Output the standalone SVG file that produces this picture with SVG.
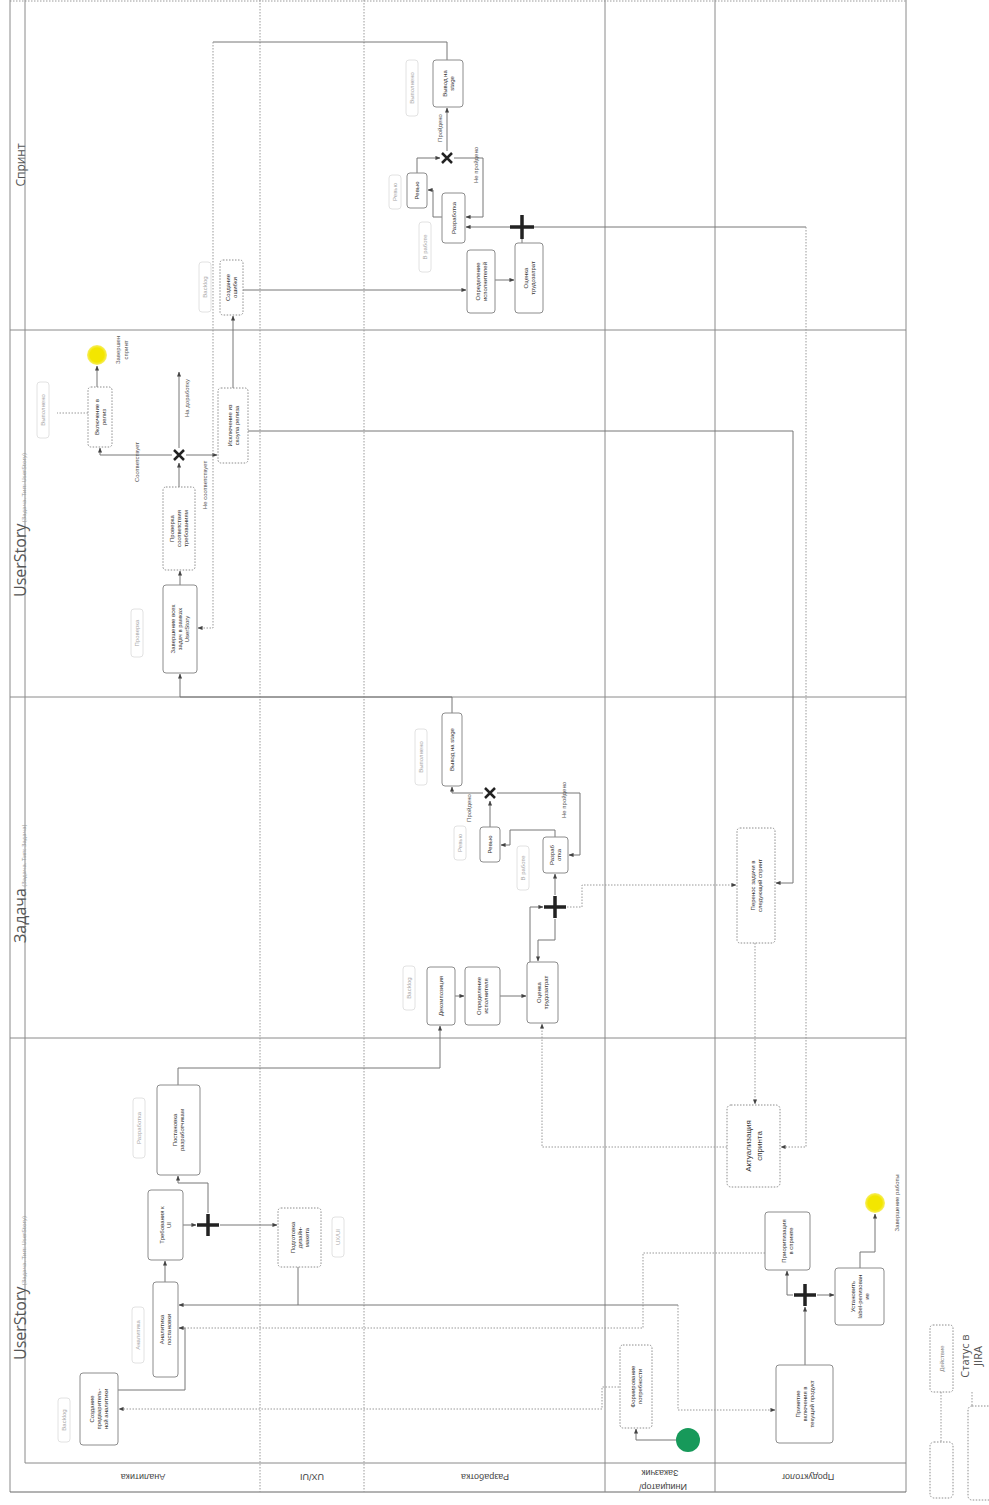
<svg xmlns="http://www.w3.org/2000/svg" width="989" height="1505" viewBox="0 0 989 1505">
<style>
.frame{stroke:#8a8a8a;stroke-width:1;fill:none}
.fdot{stroke:#9a9a9a;stroke-width:1;fill:none;stroke-dasharray:1.5 1.5}
.box{fill:#fff;stroke:#8c8c8c;stroke-width:1}
.boxd{fill:#fff;stroke:#8c8c8c;stroke-width:1;stroke-dasharray:1.5 1.5}
.t{font-family:"Liberation Sans",Arial,sans-serif;font-size:6px;fill:#333}
.tb{font-family:"Liberation Sans",Arial,sans-serif;font-size:8px;fill:#333}
.st{font-family:"Liberation Sans",Arial,sans-serif;font-size:6px;fill:#a8a8a8}
.stbox{fill:none;stroke:#e2e2e2;stroke-width:1}
.el{font-family:"Liberation Sans",Arial,sans-serif;font-size:6px;fill:#555}
.lane{font-family:"Liberation Sans",Arial,sans-serif;font-size:9px;fill:#444}
.hd{font-family:"Open Sans","Liberation Sans",sans-serif;fill:#555}
.c{fill:none;stroke:#777;stroke-width:1}
.cd{fill:none;stroke:#999;stroke-width:1;stroke-dasharray:1.5 1.5}
.pg{stroke:#222;stroke-width:3.5;fill:none}
.xg{stroke:#222;stroke-width:2.5;fill:none}
</style>
<defs>
<marker id="a" viewBox="0 0 6 6" refX="5.5" refY="3" markerWidth="5" markerHeight="5" orient="auto"><path d="M0,0.5 L6,3 L0,5.5z" fill="#444"/></marker>
<radialGradient id="yel"><stop offset="0.7" stop-color="#f3e600"/><stop offset="1" stop-color="#f7ef6a"/></radialGradient>
</defs>
<rect width="989" height="1505" fill="#fff"/>

<g id="pool">
<line class="fdot" x1="10" y1="1" x2="906" y2="1"/>
<line class="frame" x1="10" y1="0" x2="10" y2="1492"/>
<line class="frame" x1="25" y1="0" x2="25" y2="1463"/>
<line class="frame" x1="906" y1="0" x2="906" y2="1492"/>
<line class="frame" x1="10" y1="1492" x2="906" y2="1492" style="stroke:#666"/>
<line class="frame" x1="25" y1="1463" x2="906" y2="1463"/>
<line class="frame" x1="10" y1="330" x2="906" y2="330"/>
<line class="frame" x1="10" y1="697" x2="906" y2="697"/>
<line class="frame" x1="10" y1="1038" x2="906" y2="1038"/>
<line class="fdot" x1="260" y1="0" x2="260" y2="1492"/>
<line class="fdot" x1="364" y1="0" x2="364" y2="1492"/>
<line class="frame" x1="605" y1="0" x2="605" y2="1492"/>
<line class="frame" x1="715" y1="0" x2="715" y2="1492"/>
</g>

<g id="headers">
<text class="hd" font-size="12" transform="translate(25,165) rotate(-90)" text-anchor="middle">Спринт</text>
<text class="hd" transform="translate(26,597) rotate(-90)"><tspan font-size="16">UserStory</tspan><tspan font-size="6" fill="#999"> (Задача. Тип: UserStory)</tspan></text>
<text class="hd" transform="translate(26,943) rotate(-90)"><tspan font-size="16">Задача</tspan><tspan font-size="6" fill="#999"> (Задача. Тип: Задача)</tspan></text>
<text class="hd" transform="translate(26,1360) rotate(-90)"><tspan font-size="16">UserStory</tspan><tspan font-size="6" fill="#999"> (Задача. Тип: UserStory)</tspan></text>
</g>

<g id="lanes">
<text class="lane" transform="translate(143,1474) rotate(180)" text-anchor="middle">Аналитика</text>
<text class="lane" transform="translate(312,1474) rotate(180)" text-anchor="middle">UX/UI</text>
<text class="lane" transform="translate(485,1474) rotate(180)" text-anchor="middle">Разработка</text>
<text class="lane" transform="translate(663,1484) rotate(180)" text-anchor="middle">Инициатор/</text>
<text class="lane" transform="translate(660,1470) rotate(180)" text-anchor="middle">Заказчик</text>
<text class="lane" transform="translate(808,1474) rotate(180)" text-anchor="middle">Продуктолог</text>
</g>

<g id="connectors">
<polyline class="c" points="676,1440 636,1440 636,1429" marker-end="url(#a)"/>
<polyline class="cd" points="619,1387 602,1387 602,1409 119,1409" marker-end="url(#a)"/>
<polyline class="c" points="118,1390 185,1390 185,1328 179,1328" marker-end="url(#a)"/>
<polyline class="cd" points="765,1253 643,1253 643,1328 185,1328"/>
<polyline class="c" points="298,1267 298,1305 179,1305" marker-end="url(#a)"/>
<polyline class="c" points="298,1305 678,1305"/>
<polyline class="cd" points="678,1305 678,1410 775,1410" marker-end="url(#a)"/>
<polyline class="c" points="165,1282 165,1261" marker-end="url(#a)"/>
<polyline class="c" points="183,1225 196,1225" marker-end="url(#a)"/>
<polyline class="c" points="220,1225 277,1225" marker-end="url(#a)"/>
<polyline class="c" points="208,1213 208,1183 178,1183 178,1176" marker-end="url(#a)"/>
<polyline class="c" points="178,1085 178,1068 440,1068 440,1026" marker-end="url(#a)"/>
<polyline class="c" points="805,1365 805,1307" marker-end="url(#a)"/>
<polyline class="c" points="817,1295 834,1295" marker-end="url(#a)"/>
<polyline class="c" points="793,1295 787,1295 787,1271" marker-end="url(#a)"/>
<polyline class="c" points="860,1268 860,1252 875,1252 875,1214" marker-end="url(#a)"/>
<polyline class="cd" points="727,1147 542,1147 542,1024" marker-end="url(#a)"/>
<polyline class="cd" points="755,943 755,1104" marker-end="url(#a)"/>
<polyline class="cd" points="567,907 582,907 582,885 736,885" marker-end="url(#a)"/>
<polyline class="c" points="248,431 793,431 793,883 776,883" marker-end="url(#a)"/>
<polyline class="c" points="534,227 806,227"/>
<polyline class="cd" points="806,227 806,1147 781,1147" marker-end="url(#a)"/>
<polyline class="c" points="455,996 464,996" marker-end="url(#a)"/>
<polyline class="c" points="500,996 526,996" marker-end="url(#a)"/>
<polyline class="c" points="530,962 530,907 543,907" marker-end="url(#a)"/>
<polyline class="c" points="555,919 555,940 538,940 538,961" marker-end="url(#a)"/>
<polyline class="c" points="555,895 555,874" marker-end="url(#a)"/>
<polyline class="c" points="555,837 555,830 510,830 510,845 501,845" marker-end="url(#a)"/>
<polyline class="c" points="490,827 490,801" marker-end="url(#a)"/>
<polyline class="c" points="497,793 580,793 580,855 569,855" marker-end="url(#a)"/>
<polyline class="c" points="483,793 452,793 452,787" marker-end="url(#a)"/>
<polyline class="c" points="452,713 452,697 180,697 180,674" marker-end="url(#a)"/>
<polyline class="c" points="180,585 180,571" marker-end="url(#a)"/>
<polyline class="c" points="179,487 179,463" marker-end="url(#a)"/>
<polyline class="c" points="172,455 100,455 100,448" marker-end="url(#a)"/>
<polyline class="c" points="186,455 217,455" marker-end="url(#a)"/>
<polyline class="c" points="179,448 179,372" marker-end="url(#a)"/>
<polyline class="c" points="97,387 97,366" marker-end="url(#a)"/>
<polyline class="cd" points="88,413 57,413"/>
<polyline class="c" points="233,388 233,316" marker-end="url(#a)"/>
<polyline class="c" points="447,60 447,42 213,42"/>
<polyline class="cd" points="213,42 213,628 198,628" marker-end="url(#a)"/>
<polyline class="c" points="243,290 466,290" marker-end="url(#a)"/>
<polyline class="c" points="495,280 514,280" marker-end="url(#a)"/>
<polyline class="c" points="522,243 522,239"/>
<polyline class="c" points="510,227 466,227" marker-end="url(#a)"/>
<polyline class="c" points="442,217 433,217 433,190 428,190" marker-end="url(#a)"/>
<polyline class="c" points="417,173 417,158 440,158" marker-end="url(#a)"/>
<polyline class="c" points="447,151 447,108" marker-end="url(#a)"/>
<polyline class="c" points="454,158 483,158 483,217 466,217" marker-end="url(#a)"/>
</g>

<g id="edge-labels">
<text class="el" transform="translate(471,808) rotate(-90)" text-anchor="middle">Пройдено</text>
<text class="el" transform="translate(566,800) rotate(-90)" text-anchor="middle">Не пройдено</text>
<text class="el" transform="translate(139,462) rotate(-90)" text-anchor="middle">Соответствует</text>
<text class="el" transform="translate(189,398) rotate(-90)" text-anchor="middle">На доработку</text>
<text class="el" transform="translate(207,485) rotate(-90)" text-anchor="middle">Не соответствует</text>
<text class="el" transform="translate(442,128) rotate(-90)" text-anchor="middle">Пройдено</text>
<text class="el" transform="translate(478,165) rotate(-90)" text-anchor="middle">Не пройдено</text>
<text class="el" transform="translate(120,350) rotate(-90)" text-anchor="middle"><tspan x="0" dy="0">Завершен</tspan><tspan x="0" dy="8">спринт</tspan></text>
<text class="el" transform="translate(899,1203) rotate(-90)" text-anchor="middle">Завершение работы</text>
</g>

<g id="status-labels">
<g id="s1"><rect class="stbox" x="58" y="1398" width="12" height="44" rx="3"/><text class="st" transform="translate(66,1420) rotate(-90)" text-anchor="middle">Backlog</text></g>
<g id="s2"><rect class="stbox" x="132" y="1307" width="12" height="56" rx="3"/><text class="st" transform="translate(140,1335) rotate(-90)" text-anchor="middle">Аналитика</text></g>
<g id="s3"><rect class="stbox" x="133" y="1098" width="12" height="60" rx="3"/><text class="st" transform="translate(141,1128) rotate(-90)" text-anchor="middle">Разработка</text></g>
<g id="s4"><rect class="stbox" x="332" y="1217" width="12" height="40" rx="3"/><text class="st" transform="translate(340,1237) rotate(-90)" text-anchor="middle">UX/UI</text></g>
<g id="s5"><rect class="stbox" x="403" y="966" width="12" height="44" rx="3"/><text class="st" transform="translate(411,988) rotate(-90)" text-anchor="middle">Backlog</text></g>
<g id="s6"><rect class="stbox" x="517" y="846" width="12" height="44" rx="3"/><text class="st" transform="translate(525,868) rotate(-90)" text-anchor="middle">В работе</text></g>
<g id="s7"><rect class="stbox" x="454" y="826" width="12" height="34" rx="3"/><text class="st" transform="translate(462,843) rotate(-90)" text-anchor="middle">Ревью</text></g>
<g id="s8"><rect class="stbox" x="415" y="729" width="12" height="56" rx="3"/><text class="st" transform="translate(423,757) rotate(-90)" text-anchor="middle">Выполнено</text></g>
<g id="s9"><rect class="stbox" x="131" y="609" width="12" height="48" rx="3"/><text class="st" transform="translate(139,633) rotate(-90)" text-anchor="middle">Проверка</text></g>
<g id="s10"><rect class="stbox" x="37" y="382" width="12" height="56" rx="3"/><text class="st" transform="translate(45,410) rotate(-90)" text-anchor="middle">Выполнено</text></g>
<g id="s11"><rect class="stbox" x="199" y="262" width="12" height="50" rx="3"/><text class="st" transform="translate(207,287) rotate(-90)" text-anchor="middle">Backlog</text></g>
<g id="s12"><rect class="stbox" x="419" y="222" width="12" height="50" rx="3"/><text class="st" transform="translate(427,247) rotate(-90)" text-anchor="middle">В работе</text></g>
<g id="s13"><rect class="stbox" x="389" y="175" width="12" height="34" rx="3"/><text class="st" transform="translate(397,192) rotate(-90)" text-anchor="middle">Ревью</text></g>
<g id="s14"><rect class="stbox" x="406" y="60" width="12" height="56" rx="3"/><text class="st" transform="translate(414,88) rotate(-90)" text-anchor="middle">Выполнено</text></g>
</g>

<g id="n1"><rect class="box" x="80" y="1373" width="38" height="72" rx="3"/><text class="t" transform="translate(99,1409) rotate(-90)" text-anchor="middle"><tspan x="0" dy="-4.9">Создание</tspan><tspan x="0" dy="7">предваритель-</tspan><tspan x="0" dy="7">ной аналитики</tspan></text></g>
<g id="n2"><rect class="box" x="153" y="1282" width="25" height="95" rx="3"/><text class="t" transform="translate(165.5,1329.5) rotate(-90)" text-anchor="middle"><tspan x="0" dy="-1.4">Аналитика</tspan><tspan x="0" dy="7">постановки</tspan></text></g>
<g id="n3"><rect class="box" x="148" y="1190" width="35" height="70" rx="3"/><text class="t" transform="translate(165.5,1225) rotate(-90)" text-anchor="middle"><tspan x="0" dy="-1.4">Требования к</tspan><tspan x="0" dy="7">UI</tspan></text></g>
<g id="n4"><rect class="box" x="157" y="1085" width="43" height="90" rx="3"/><text class="t" transform="translate(178.5,1130) rotate(-90)" text-anchor="middle"><tspan x="0" dy="-1.4">Постановка</tspan><tspan x="0" dy="7">разработчикам</tspan></text></g>
<g id="n5"><rect class="boxd" x="278" y="1208" width="43" height="59" rx="3"/><text class="t" transform="translate(299.5,1237.5) rotate(-90)" text-anchor="middle"><tspan x="0" dy="-4.9">Подготовка</tspan><tspan x="0" dy="7">дизайн-</tspan><tspan x="0" dy="7">макета</tspan></text></g>
<g id="n6"><rect class="boxd" x="620" y="1345" width="32" height="83" rx="3"/><text class="t" transform="translate(636,1386.5) rotate(-90)" text-anchor="middle"><tspan x="0" dy="-1.4">Формирование</tspan><tspan x="0" dy="7">потребности</tspan></text></g>
<g id="n7"><rect class="box" x="776" y="1365" width="57" height="78" rx="3"/><text class="t" transform="translate(804.5,1404) rotate(-90)" text-anchor="middle"><tspan x="0" dy="-4.9">Принятие</tspan><tspan x="0" dy="7">включения в</tspan><tspan x="0" dy="7">текущий продукт</tspan></text></g>
<g id="n8"><rect class="box" x="835" y="1268" width="49" height="57" rx="3"/><text class="t" transform="translate(859.5,1296.5) rotate(-90)" text-anchor="middle"><tspan x="0" dy="-4.9">Установить</tspan><tspan x="0" dy="7">label-релизован</tspan><tspan x="0" dy="7">ие</tspan></text></g>
<g id="n9"><rect class="box" x="765" y="1212" width="45" height="58" rx="3"/><text class="t" transform="translate(787.5,1241) rotate(-90)" text-anchor="middle"><tspan x="0" dy="-1.4">Приоритизация</tspan><tspan x="0" dy="7">в спринте</tspan></text></g>
<g id="n10"><rect class="boxd" x="727" y="1105" width="53" height="82" rx="4"/><text class="tb" transform="translate(753.5,1146) rotate(-90)" text-anchor="middle"><tspan x="0" dy="-2.7">Актуализация</tspan><tspan x="0" dy="11">спринта</tspan></text></g>
<g id="n11"><rect class="box" x="427" y="967" width="28" height="58" rx="3"/><text class="t" transform="translate(441,996) rotate(-90)" text-anchor="middle"><tspan x="0" dy="2.1">Декомпозиция</tspan></text></g>
<g id="n12"><rect class="box" x="465" y="967" width="35" height="58" rx="3"/><text class="t" transform="translate(482.5,996) rotate(-90)" text-anchor="middle"><tspan x="0" dy="-1.4">Определение</tspan><tspan x="0" dy="7">исполнителя</tspan></text></g>
<g id="n13"><rect class="box" x="527" y="962" width="31" height="61" rx="3"/><text class="t" transform="translate(542.5,992.5) rotate(-90)" text-anchor="middle"><tspan x="0" dy="-1.4">Оценка</tspan><tspan x="0" dy="7">трудозатрат</tspan></text></g>
<g id="n14"><rect class="box" x="543" y="837" width="25" height="36" rx="3"/><text class="t" transform="translate(555.5,855) rotate(-90)" text-anchor="middle"><tspan x="0" dy="-1.4">Разраб</tspan><tspan x="0" dy="7">отка</tspan></text></g>
<g id="n15"><rect class="box" x="480" y="827" width="20" height="35" rx="3"/><text class="t" transform="translate(490,844.5) rotate(-90)" text-anchor="middle"><tspan x="0" dy="2.1">Ревью</tspan></text></g>
<g id="n16"><rect class="box" x="442" y="713" width="20" height="73" rx="3"/><text class="t" transform="translate(452,749.5) rotate(-90)" text-anchor="middle"><tspan x="0" dy="2.1">Вывод на stage</tspan></text></g>
<g id="n17"><rect class="boxd" x="737" y="828" width="38" height="115" rx="3"/><text class="t" transform="translate(756,885.5) rotate(-90)" text-anchor="middle"><tspan x="0" dy="-1.4">Перенос задачи в</tspan><tspan x="0" dy="7">следующий спринт</tspan></text></g>
<g id="n18"><rect class="box" x="163" y="585" width="34" height="88" rx="3"/><text class="t" transform="translate(180,629) rotate(-90)" text-anchor="middle"><tspan x="0" dy="-4.9">Завершение всех</tspan><tspan x="0" dy="7">задач в рамках</tspan><tspan x="0" dy="7">UserStory</tspan></text></g>
<g id="n19"><rect class="boxd" x="163" y="487" width="32" height="83" rx="3"/><text class="t" transform="translate(179,528.5) rotate(-90)" text-anchor="middle"><tspan x="0" dy="-4.9">Проверка</tspan><tspan x="0" dy="7">соответствия</tspan><tspan x="0" dy="7">требованиям</tspan></text></g>
<g id="n20"><rect class="boxd" x="88" y="387" width="24" height="60" rx="3"/><text class="t" transform="translate(100,417) rotate(-90)" text-anchor="middle"><tspan x="0" dy="-1.4">Включение в</tspan><tspan x="0" dy="7">релиз</tspan></text></g>
<g id="n21"><rect class="boxd" x="218" y="388" width="30" height="75" rx="3"/><text class="t" transform="translate(233,425.5) rotate(-90)" text-anchor="middle"><tspan x="0" dy="-1.4">Исключение из</tspan><tspan x="0" dy="7">скоупа релиза</tspan></text></g>
<g id="n22"><rect class="boxd" x="220" y="260" width="23" height="55" rx="3"/><text class="t" transform="translate(231.5,287.5) rotate(-90)" text-anchor="middle"><tspan x="0" dy="-1.4">Создание</tspan><tspan x="0" dy="7">ошибки</tspan></text></g>
<g id="n23"><rect class="box" x="467" y="250" width="28" height="63" rx="3"/><text class="t" transform="translate(481,281.5) rotate(-90)" text-anchor="middle"><tspan x="0" dy="-1.4">Определение</tspan><tspan x="0" dy="7">исполнителей</tspan></text></g>
<g id="n24"><rect class="box" x="515" y="243" width="28" height="70" rx="3"/><text class="t" transform="translate(529,278) rotate(-90)" text-anchor="middle"><tspan x="0" dy="-1.4">Оценка</tspan><tspan x="0" dy="7">трудозатрат</tspan></text></g>
<g id="n25"><rect class="box" x="442" y="193" width="23" height="50" rx="3"/><text class="t" transform="translate(453.5,218) rotate(-90)" text-anchor="middle"><tspan x="0" dy="2.1">Разработка</tspan></text></g>
<g id="n26"><rect class="box" x="407" y="173" width="20" height="35" rx="3"/><text class="t" transform="translate(417,190.5) rotate(-90)" text-anchor="middle"><tspan x="0" dy="2.1">Ревью</tspan></text></g>
<g id="n27"><rect class="box" x="433" y="60" width="30" height="47" rx="3"/><text class="t" transform="translate(448,83.5) rotate(-90)" text-anchor="middle"><tspan x="0" dy="-1.4">Вывод на</tspan><tspan x="0" dy="7">stage</tspan></text></g>

<g id="g1"><path class="pg" d="M197,1225 h22 M208,1214 v22"/></g>
<g id="g2"><path class="pg" d="M794,1295 h22 M805,1284 v22"/></g>
<g id="g3"><path class="pg" d="M544,907 h22 M555,896 v22"/></g>
<g id="g4"><path class="pg" d="M510,227 h24 M522,215 v24"/></g>
<g id="x1"><path class="xg" d="M485,788 l10,10 M495,788 l-10,10"/></g>
<g id="x2"><path class="xg" d="M174,450 l10,10 M184,450 l-10,10"/></g>
<g id="x3"><path class="xg" d="M442,153 l10,10 M452,153 l-10,10"/></g>

<g id="start"><circle cx="688" cy="1440" r="12" fill="#17995a"/></g>
<g id="end1"><circle cx="875" cy="1203" r="10" fill="url(#yel)"/></g>
<g id="end2"><circle cx="97" cy="355" r="10" fill="url(#yel)"/></g>

<g id="legend">
<rect class="boxd" x="930" y="1325" width="23" height="67" rx="3"/>
<text class="st" style="fill:#888" transform="translate(943.5,1358.5) rotate(-90)" text-anchor="middle">Действие</text>
<line class="cd" x1="941" y1="1392" x2="941" y2="1442"/>
<rect class="boxd" x="930" y="1442" width="23" height="56" rx="4"/>
<text class="hd" font-size="11" transform="translate(971,1356) rotate(-90)" text-anchor="middle"><tspan x="0" dy="-2.5">Статус в</tspan><tspan x="0" dy="13">JIRA</tspan></text>
<line class="cd" x1="972" y1="1392" x2="972" y2="1406"/>
<rect class="boxd" x="968" y="1406" width="26" height="94" rx="4"/>
</g>
</svg>
